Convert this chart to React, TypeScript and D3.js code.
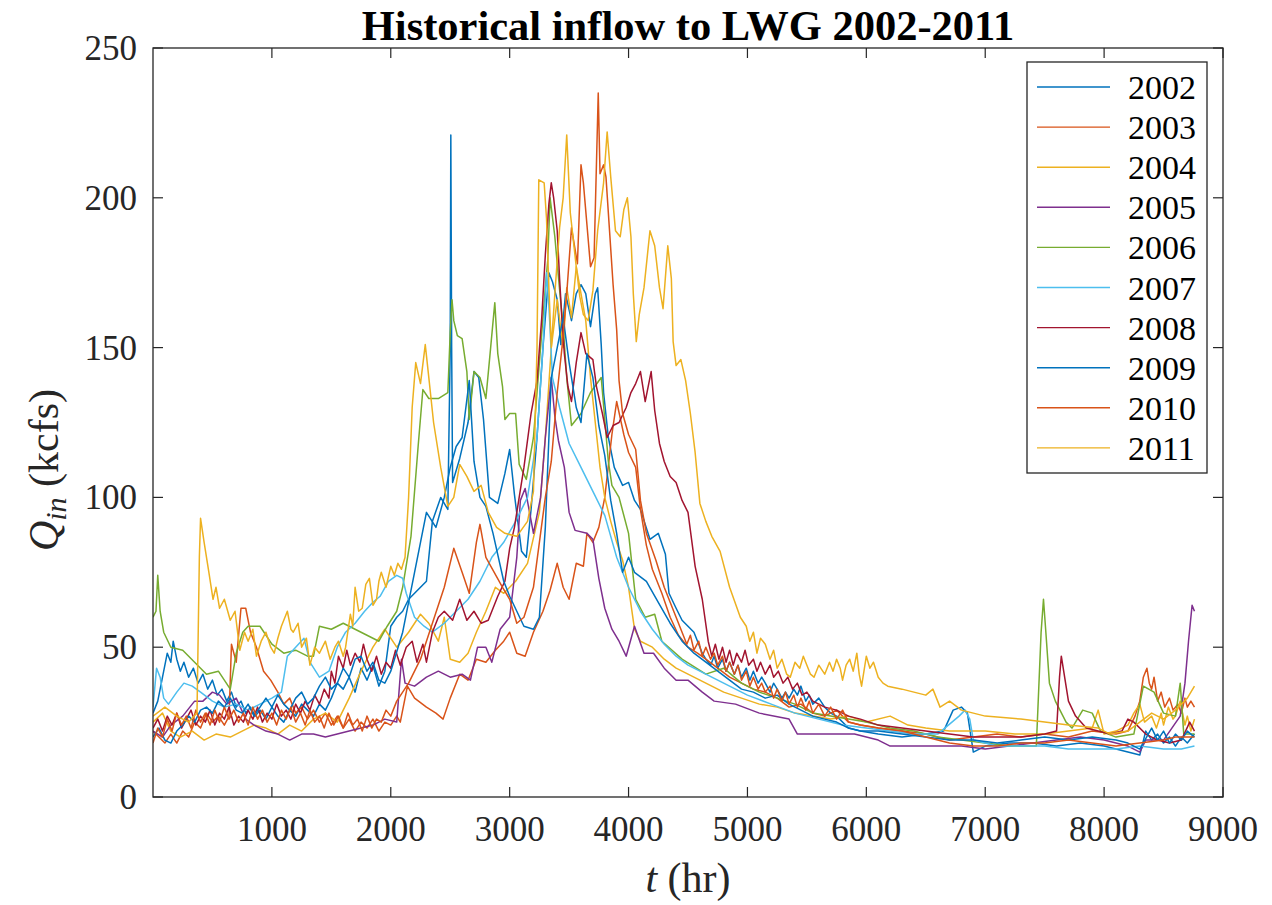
import * as d3 from "d3";

// hour-of-year vs inflow (kcfs)
const inflow2002: [number, number][] = [
  [0, 28], [40, 32], [80, 40], [120, 48], [150, 45], [170, 52], [200, 46], [230, 42], [260, 45], [300, 40],
  [340, 43], [380, 38], [420, 41], [460, 36], [500, 39], [540, 34], [580, 36], [620, 32], [660, 35], [700, 30],
  [740, 32], [780, 28], [820, 30], [860, 27], [900, 29], [950, 26], [1000, 30], [1050, 27], [1100, 25],
  [1150, 29], [1200, 27], [1250, 31], [1300, 29], [1350, 27], [1400, 31], [1450, 29], [1500, 33], [1550, 38],
  [1600, 36], [1650, 40], [1700, 35], [1750, 43], [1800, 39], [1850, 44], [1900, 37], [1950, 42], [2000, 57],
  [2050, 60], [2100, 62], [2150, 66], [2200, 68], [2250, 70], [2300, 72], [2350, 92], [2420, 100],
  [2480, 96], [2500, 150], [2505, 221], [2512, 150], [2520, 105], [2580, 113], [2650, 125], [2700, 142],
  [2740, 140], [2780, 126], [2830, 100], [2900, 98], [2960, 108], [3000, 116], [3040, 101], [3100, 82],
  [3140, 80], [3180, 96], [3230, 120], [3280, 150], [3330, 175], [3360, 172], [3400, 166], [3430, 151],
  [3470, 168], [3520, 159], [3560, 168], [3600, 171], [3640, 168], [3680, 157], [3720, 168], [3740, 170],
  [3770, 151], [3790, 135], [3830, 120], [3880, 110], [3950, 104], [4000, 105], [4050, 99], [4100, 96],
  [4180, 86], [4250, 88], [4310, 81], [4340, 68], [4400, 63], [4450, 59], [4500, 57], [4550, 55], [4590, 51],
  [4620, 48], [4650, 46], [4690, 44], [4720, 47], [4750, 43], [4790, 46], [4820, 42], [4850, 45], [4890, 41],
  [4920, 44], [4950, 40], [4990, 43], [5020, 39], [5050, 42], [5090, 38], [5120, 40], [5150, 38], [5190, 35],
  [5220, 38], [5250, 36], [5290, 33], [5320, 35], [5350, 33], [5390, 36], [5420, 34], [5450, 37], [5490, 32],
  [5520, 34], [5550, 31], [5600, 33], [5650, 30], [5700, 28], [5750, 27], [5850, 23], [5950, 22], [6100, 21],
  [6300, 20], [6500, 21], [6650, 22], [6730, 29], [6800, 30], [6850, 28], [6900, 15], [7000, 17], [7200, 18],
  [7400, 18], [7600, 17], [7800, 18], [8000, 17], [8200, 15], [8300, 14], [8350, 22], [8400, 19], [8450, 21],
  [8500, 18], [8550, 20], [8600, 17], [8650, 20], [8700, 18], [8760, 21],
];

const inflow2003: [number, number][] = [
  [0, 22], [50, 20], [100, 18], [150, 21], [200, 18], [250, 22], [300, 20], [350, 25], [400, 23], [450, 28],
  [500, 25], [550, 27], [600, 24], [640, 27], [660, 51], [700, 45], [740, 63], [780, 63], [820, 55], [870, 50],
  [930, 42], [990, 39], [1050, 35], [1100, 31], [1150, 33], [1200, 28], [1250, 30], [1300, 26], [1350, 29],
  [1400, 25], [1450, 28], [1500, 24], [1550, 27], [1600, 23], [1650, 26], [1700, 22], [1750, 25], [1800, 23],
  [1850, 26], [1900, 22], [1950, 25], [2000, 24], [2050, 27], [2080, 25], [2140, 37], [2200, 33], [2300, 30],
  [2380, 28], [2440, 26], [2500, 33], [2580, 41], [2650, 39], [2720, 46], [2800, 45], [2880, 49], [2950, 52],
  [3000, 55], [3060, 48], [3130, 47], [3200, 55], [3280, 62], [3340, 69], [3400, 78], [3450, 70], [3500, 66],
  [3560, 78], [3620, 77], [3650, 88], [3700, 85], [3750, 90], [3800, 100], [3860, 121], [3900, 132],
  [3960, 121], [4000, 115], [4060, 110], [4100, 96], [4150, 84], [4200, 76], [4280, 68], [4350, 60],
  [4420, 54], [4500, 50], [4580, 48], [4650, 46], [4750, 43], [4850, 40], [4950, 38], [5050, 36], [5150, 35],
  [5250, 33], [5350, 30], [5450, 31], [5550, 28], [5650, 27], [5750, 29], [5850, 25], [5950, 24], [6100, 23],
  [6300, 22], [6500, 21], [6700, 19], [6900, 20], [7100, 21], [7300, 20], [7500, 21], [7700, 20], [7900, 22],
  [8100, 21], [8200, 22], [8260, 27], [8300, 32], [8330, 40], [8360, 43], [8380, 38], [8400, 36], [8420, 40],
  [8450, 32], [8480, 35], [8510, 30], [8550, 33], [8580, 29], [8620, 31], [8650, 28], [8680, 33], [8700, 30],
  [8730, 32], [8760, 30],
];

const inflow2004: [number, number][] = [
  [0, 25], [80, 28], [150, 22], [230, 20], [330, 22], [430, 19], [530, 21], [650, 20], [750, 22], [850, 24],
  [950, 23], [1050, 21], [1150, 24], [1250, 22], [1350, 26], [1450, 28], [1550, 25], [1650, 33], [1750, 42],
  [1850, 50], [1950, 56], [2050, 50], [2150, 55], [2250, 61], [2320, 58], [2400, 52], [2450, 60], [2500, 46],
  [2580, 45], [2650, 48], [2720, 55], [2800, 62], [2880, 70], [2950, 68], [3050, 72], [3150, 78], [3250, 95],
  [3300, 120], [3350, 150], [3400, 166], [3450, 150], [3480, 170], [3520, 160], [3560, 177], [3600, 168],
  [3640, 159], [3680, 140], [3720, 125], [3760, 110], [3800, 100], [3850, 92], [3900, 85], [3950, 79],
  [4000, 70], [4050, 56], [4100, 52], [4200, 50], [4300, 46], [4400, 43], [4500, 41], [4600, 39], [4700, 37],
  [4800, 35], [4950, 33], [5100, 31], [5250, 30], [5400, 28], [5550, 27], [5700, 26], [5850, 27], [6000, 25],
  [6200, 27], [6350, 24], [6500, 23], [6700, 22], [7000, 22], [7250, 21], [7500, 21], [7700, 22], [7900, 23],
  [7950, 29], [8000, 21], [8100, 22], [8200, 24], [8250, 28], [8300, 31], [8340, 25], [8400, 27], [8440, 23],
  [8480, 28], [8500, 24], [8540, 30], [8580, 26], [8600, 27], [8640, 32], [8680, 24], [8700, 27], [8730, 22],
  [8760, 26],
];

const inflow2005: [number, number][] = [
  [0, 22], [80, 20], [150, 24], [250, 27], [350, 32], [420, 32], [500, 35], [560, 34], [620, 31], [700, 33],
  [780, 26], [850, 24], [950, 22], [1050, 21], [1150, 19], [1250, 21], [1350, 21], [1450, 20], [1550, 21],
  [1650, 22], [1750, 23], [1850, 24], [1950, 26], [2050, 25], [2090, 46], [2120, 38], [2200, 37], [2300, 40],
  [2400, 42], [2500, 40], [2600, 41], [2670, 39], [2730, 50], [2800, 50], [2850, 45], [2920, 56], [3000, 60],
  [3060, 80], [3090, 99], [3130, 103], [3200, 88], [3260, 100], [3300, 120], [3350, 140], [3380, 127],
  [3410, 119], [3460, 110], [3500, 95], [3550, 89], [3650, 88], [3700, 86], [3750, 73], [3800, 63], [3860, 56],
  [3920, 52], [3980, 47], [4050, 57], [4130, 48], [4210, 48], [4300, 43], [4400, 39], [4500, 39], [4620, 35],
  [4720, 32], [4900, 31], [5100, 28], [5350, 26], [5420, 21], [5600, 21], [5900, 21], [6100, 19], [6200, 17],
  [6400, 17], [6600, 17], [6800, 17], [7000, 16], [7200, 17], [7400, 18], [7600, 19], [7800, 20], [8000, 19],
  [8100, 18], [8200, 17], [8300, 15], [8350, 19], [8500, 19], [8640, 27], [8680, 38], [8710, 52], [8740, 64],
  [8760, 62],
];

const inflow2006: [number, number][] = [
  [0, 60], [25, 62], [40, 74], [60, 62], [90, 55], [150, 50], [250, 49], [350, 45], [450, 41], [550, 42],
  [650, 36], [700, 48], [755, 55], [800, 57], [900, 57], [1000, 51], [1100, 48], [1200, 49], [1300, 47],
  [1350, 47], [1400, 57], [1500, 56], [1600, 58], [1700, 56], [1800, 54], [1900, 52], [1970, 57], [2050, 62],
  [2100, 70], [2170, 87], [2230, 117], [2270, 136], [2320, 133], [2400, 133], [2480, 135], [2500, 155],
  [2515, 166], [2530, 159], [2560, 154], [2600, 153], [2640, 142], [2660, 126], [2700, 142], [2750, 140],
  [2800, 133], [2840, 150], [2875, 165], [2900, 148], [2940, 137], [2960, 126], [3000, 128], [3050, 128],
  [3080, 111], [3140, 106], [3200, 120], [3260, 150], [3300, 170], [3320, 179], [3340, 200], [3380, 187],
  [3400, 178], [3430, 165], [3450, 157], [3480, 140], [3520, 124], [3600, 128], [3680, 135], [3770, 140],
  [3830, 112], [3860, 104], [3920, 100], [4000, 88], [4060, 66], [4140, 60], [4220, 61], [4280, 52],
  [4450, 46], [4650, 41], [4800, 43], [4950, 38], [5100, 35], [5250, 33], [5400, 31], [5550, 28], [5700, 27],
  [5850, 26], [6000, 25], [6200, 23], [6400, 22], [6600, 20], [6800, 19], [7000, 18], [7200, 17], [7430, 17],
  [7470, 55], [7490, 66], [7510, 55], [7540, 38], [7590, 32], [7680, 25], [7730, 23], [7820, 29], [7900, 28],
  [7970, 22], [8100, 20], [8250, 21], [8330, 37], [8420, 35], [8500, 28], [8600, 27], [8640, 38], [8670, 21],
  [8760, 21],
];

const inflow2007: [number, number][] = [
  [0, 30], [30, 43], [60, 40], [90, 33], [130, 31], [200, 35], [260, 38], [330, 37], [400, 35], [500, 32],
  [600, 30], [700, 31], [800, 29], [900, 31], [1000, 33], [1080, 35], [1130, 47], [1200, 50], [1270, 53],
  [1320, 45], [1400, 40], [1480, 42], [1550, 50], [1620, 55], [1700, 58], [1780, 62], [1850, 65], [1910, 67],
  [1980, 72], [2050, 74], [2100, 73], [2130, 68], [2200, 60], [2280, 57], [2350, 55], [2450, 58], [2550, 62],
  [2650, 66], [2750, 72], [2850, 80], [2950, 85], [3050, 92], [3150, 100], [3230, 120], [3280, 150],
  [3310, 175], [3330, 164], [3360, 140], [3420, 130], [3500, 118], [3600, 110], [3700, 102], [3800, 94],
  [3900, 80], [4000, 70], [4100, 62], [4200, 56], [4300, 51], [4400, 47], [4500, 44], [4650, 41], [4800, 38],
  [5000, 34], [5200, 31], [5400, 28], [5600, 26], [5800, 24], [6000, 23], [6200, 22], [6400, 21], [6600, 21],
  [6780, 27], [6830, 29], [6870, 26], [6900, 19], [7100, 17], [7300, 17], [7500, 17], [7700, 16], [7900, 16],
  [8100, 16], [8300, 17], [8500, 16], [8650, 16], [8760, 17],
];

const inflow2008: [number, number][] = [
  [0, 23], [40, 26], [80, 22], [120, 27], [160, 24], [200, 28], [240, 23], [280, 26], [320, 29], [360, 24],
  [400, 27], [440, 25], [480, 29], [520, 24], [560, 28], [600, 26], [640, 30], [680, 24], [720, 27], [760, 25],
  [800, 29], [840, 26], [880, 30], [920, 25], [960, 28], [1000, 26], [1040, 31], [1080, 27], [1120, 29],
  [1160, 26], [1200, 31], [1240, 28], [1280, 32], [1320, 29], [1360, 34], [1400, 31], [1440, 36], [1480, 33],
  [1500, 42], [1530, 38], [1560, 47], [1600, 43], [1630, 49], [1660, 44], [1700, 48], [1740, 45], [1770, 51],
  [1800, 46], [1840, 42], [1880, 47], [1920, 41], [1960, 45], [2000, 43], [2040, 49], [2080, 44], [2130, 50],
  [2180, 52], [2220, 45], [2270, 51], [2300, 45], [2350, 55], [2400, 60], [2450, 62], [2520, 59], [2580, 66],
  [2640, 59], [2700, 62], [2760, 58], [2820, 59], [2900, 67], [2960, 72], [3000, 83], [3040, 90], [3080, 100],
  [3120, 110], [3180, 128], [3230, 139], [3270, 160], [3300, 181], [3330, 198], [3350, 205], [3370, 200],
  [3400, 189], [3420, 173], [3440, 159], [3460, 148], [3490, 137], [3520, 132], [3560, 145], [3600, 155],
  [3640, 148], [3700, 146], [3730, 137], [3780, 128], [3820, 120], [3870, 124], [3920, 125], [3980, 130],
  [4020, 135], [4060, 138], [4100, 142], [4140, 132], [4190, 142], [4220, 129], [4260, 118], [4300, 112],
  [4350, 107], [4400, 105], [4450, 99], [4500, 95], [4530, 86], [4560, 77], [4620, 66], [4670, 52],
  [4700, 47], [4730, 51], [4760, 46], [4790, 50], [4820, 45], [4850, 49], [4880, 44], [4910, 48], [4950, 45],
  [4980, 49], [5010, 44], [5050, 46], [5080, 42], [5110, 45], [5150, 41], [5190, 44], [5220, 40], [5260, 42],
  [5300, 38], [5340, 40], [5380, 36], [5420, 38], [5460, 34], [5500, 35], [5550, 32], [5650, 30], [5750, 29],
  [5850, 27], [5950, 26], [6100, 24], [6300, 23], [6500, 22], [6700, 21], [6900, 20], [7100, 20], [7300, 20],
  [7500, 21], [7600, 22], [7625, 40], [7640, 47], [7660, 42], [7700, 32], [7760, 27], [7850, 23], [7950, 22],
  [8050, 21], [8150, 22], [8200, 26], [8250, 25], [8350, 21], [8450, 19], [8550, 18], [8650, 19], [8720, 25],
  [8760, 22],
];

const inflow2009: [number, number][] = [
  [0, 20], [50, 23], [100, 19], [150, 18], [200, 22], [250, 24], [300, 27], [350, 25], [400, 29], [450, 30],
  [500, 28], [550, 32], [600, 30], [650, 33], [700, 29], [750, 28], [800, 31], [850, 27], [900, 30], [950, 33],
  [1000, 30], [1050, 34], [1100, 31], [1150, 29], [1200, 33], [1250, 35], [1300, 31], [1350, 33], [1400, 37],
  [1450, 40], [1500, 36], [1550, 38], [1600, 43], [1650, 40], [1700, 46], [1750, 47], [1800, 42], [1850, 45],
  [1900, 39], [1950, 38], [2000, 42], [2100, 55], [2200, 75], [2250, 85], [2300, 95], [2380, 90], [2450, 100],
  [2500, 110], [2550, 117], [2600, 120], [2660, 139], [2700, 112], [2750, 100], [2800, 97], [2860, 88],
  [2950, 72], [3000, 67], [3060, 62], [3120, 57], [3200, 56], [3250, 60], [3300, 90], [3350, 140], [3400, 150],
  [3450, 160], [3500, 145], [3560, 130], [3600, 125], [3650, 148], [3700, 140], [3750, 124], [3800, 114],
  [3850, 99], [3900, 88], [3950, 75], [4000, 80], [4050, 75], [4150, 72], [4250, 65], [4350, 58], [4450, 52],
  [4550, 48], [4650, 45], [4750, 42], [4850, 39], [4950, 36], [5050, 35], [5150, 33], [5250, 34], [5350, 31],
  [5450, 29], [5550, 27], [5650, 26], [5750, 25], [5850, 23], [5950, 22], [6100, 22], [6300, 21], [6500, 20],
  [6700, 19], [6900, 19], [7100, 18], [7300, 19], [7500, 20], [7700, 19], [7900, 20], [8100, 19], [8200, 18],
  [8300, 16], [8400, 23], [8450, 19], [8500, 22], [8550, 18], [8600, 21], [8650, 19], [8700, 22], [8760, 20],
];

const inflow2010: [number, number][] = [
  [0, 18], [40, 23], [80, 20], [120, 26], [160, 22], [200, 28], [240, 24], [280, 27], [320, 23], [360, 29],
  [400, 25], [440, 28], [480, 24], [520, 29], [560, 25], [600, 30], [640, 26], [680, 29], [720, 25], [760, 28],
  [800, 24], [840, 30], [880, 26], [920, 29], [960, 25], [1000, 28], [1040, 24], [1080, 29], [1120, 26],
  [1160, 30], [1200, 25], [1240, 28], [1280, 24], [1320, 29], [1360, 25], [1400, 27], [1440, 23], [1480, 28],
  [1520, 24], [1560, 27], [1600, 23], [1640, 28], [1680, 24], [1720, 26], [1760, 22], [1800, 27], [1840, 23],
  [1880, 26], [1920, 25], [1960, 29], [2000, 27], [2050, 32], [2150, 38], [2250, 46], [2350, 58], [2450, 70],
  [2530, 83], [2600, 75], [2660, 68], [2720, 85], [2750, 91], [2800, 80], [2870, 75], [2940, 70], [3000, 66],
  [3060, 58], [3120, 60], [3200, 70], [3260, 88], [3300, 100], [3350, 112], [3400, 135], [3440, 150],
  [3480, 168], [3520, 190], [3570, 178], [3600, 211], [3620, 205], [3650, 191], [3680, 177], [3710, 180],
  [3745, 235], [3760, 208], [3790, 211], [3810, 207], [3840, 189], [3870, 171], [3900, 156], [3920, 139],
  [3950, 128], [4000, 121], [4060, 116], [4100, 99], [4150, 88], [4230, 79], [4300, 70], [4380, 62],
  [4450, 55], [4490, 51], [4520, 54], [4550, 49], [4590, 52], [4620, 47], [4650, 50], [4690, 46], [4720, 48],
  [4750, 44], [4790, 47], [4820, 42], [4850, 45], [4890, 41], [4920, 44], [4950, 39], [4990, 42], [5020, 37],
  [5050, 40], [5090, 36], [5120, 38], [5150, 35], [5190, 37], [5220, 33], [5250, 36], [5290, 32], [5320, 35],
  [5350, 31], [5390, 34], [5420, 30], [5450, 33], [5490, 29], [5520, 32], [5550, 28], [5600, 31], [5650, 27],
  [5700, 30], [5750, 26], [5800, 29], [5850, 25], [5950, 24], [6100, 23], [6300, 22], [6500, 20], [6700, 18],
  [6900, 17], [7100, 17], [7300, 18], [7500, 18], [7700, 19], [7900, 18], [8100, 17], [8300, 18], [8500, 19],
  [8600, 20], [8760, 20],
];

const inflow2011: [number, number][] = [
  [0, 27], [100, 30], [200, 27], [300, 25], [370, 28], [390, 80], [400, 93], [430, 85], [470, 75], [505, 66],
  [530, 70], [560, 63], [600, 66], [650, 59], [690, 62], [730, 49], [770, 55], [800, 52], [840, 56], [870, 47],
  [910, 52], [950, 55], [990, 50], [1020, 48], [1050, 53], [1080, 57], [1130, 62], [1160, 56], [1180, 55],
  [1220, 58], [1250, 50], [1290, 53], [1320, 44], [1360, 50], [1400, 48], [1450, 52], [1490, 46], [1530, 50],
  [1560, 52], [1600, 47], [1620, 50], [1660, 61], [1680, 57], [1700, 70], [1730, 62], [1760, 63], [1790, 71],
  [1820, 73], [1850, 64], [1880, 66], [1900, 72], [1920, 75], [1960, 70], [2000, 77], [2030, 74], [2060, 78],
  [2090, 76], [2120, 80], [2150, 100], [2180, 130], [2210, 145], [2250, 138], [2290, 151], [2320, 140],
  [2360, 125], [2420, 110], [2480, 97], [2530, 100], [2580, 111], [2640, 107], [2700, 102], [2760, 104],
  [2820, 95], [2890, 90], [2960, 88], [3060, 87], [3150, 92], [3200, 102], [3230, 150], [3245, 206],
  [3290, 205], [3310, 193], [3330, 170], [3350, 150], [3380, 168], [3420, 190], [3450, 200], [3480, 221],
  [3510, 195], [3560, 177], [3590, 167], [3620, 161], [3660, 159], [3700, 169], [3740, 189], [3790, 205],
  [3820, 222], [3850, 207], [3890, 189], [3930, 187], [3960, 196], [3990, 200], [4020, 187], [4040, 168],
  [4065, 152], [4090, 161], [4130, 170], [4180, 189], [4220, 184], [4260, 170], [4290, 163], [4330, 184],
  [4360, 173], [4375, 152], [4400, 144], [4440, 146], [4480, 139], [4520, 128], [4560, 115], [4600, 98],
  [4650, 92], [4700, 87], [4770, 82], [4850, 70], [4940, 60], [4990, 57], [5020, 52], [5050, 55], [5080, 48],
  [5110, 53], [5150, 51], [5190, 46], [5220, 49], [5250, 43], [5290, 46], [5330, 41], [5360, 40], [5400, 45],
  [5440, 43], [5470, 47], [5500, 44], [5530, 41], [5560, 40], [5600, 44], [5650, 41], [5690, 45], [5720, 42],
  [5750, 46], [5780, 43], [5800, 39], [5830, 44], [5860, 46], [5890, 42], [5920, 48], [5940, 41], [5960, 37],
  [5980, 42], [6000, 47], [6030, 43], [6060, 45], [6100, 40], [6140, 38], [6180, 37], [6300, 36], [6400, 35],
  [6500, 34], [6560, 36], [6620, 30], [6700, 32], [6800, 29], [6900, 28], [7000, 27], [7300, 26], [7500, 25],
  [7700, 24], [7950, 23], [8050, 21], [8200, 22], [8300, 25], [8400, 28], [8500, 26], [8600, 29], [8700, 33],
  [8760, 37],
];

const years = ["2002", "2003", "2004", "2005", "2006", "2007", "2008", "2009", "2010", "2011"];
const seriesData = [
  inflow2002, inflow2003, inflow2004, inflow2005, inflow2006,
  inflow2007, inflow2008, inflow2009, inflow2010, inflow2011,
];
// MATLAB default colour order, wraps after 7
const colorOrder = ["#0072BD", "#D95319", "#EDB120", "#7E2F8E", "#77AC30", "#4DBEEE", "#A2142F"];

const xTicks = [1000, 2000, 3000, 4000, 5000, 6000, 7000, 8000, 9000];
const yTicks = [0, 50, 100, 150, 200, 250];

const W = 1272;
const H = 905;
const margin = { left: 153, top: 48, right: 1223, bottom: 797 };
const font = "'Liberation Serif', 'Times New Roman', serif";
const axisColor = "#262626";

export default function App() {
  const x = d3.scaleLinear().domain([0, 9000]).range([margin.left, margin.right]);
  const y = d3.scaleLinear().domain([0, 250]).range([margin.bottom, margin.top]);
  const line = d3
    .line<[number, number]>()
    .x((d) => x(d[0]))
    .y((d) => y(d[1]));

  const tickLen = 10;
  const legend = { x: 1027, y: 62, w: 180, h: 411, rowH: 40.1 };

  return (
    <svg
      width={W}
      height={H}
      viewBox={`0 0 ${W} ${H}`}
      style={{ position: "absolute", left: 0, top: 0, background: "#fff" }}
      fontFamily={font}
    >
      <rect x={0} y={0} width={W} height={H} fill="#fff" />

      <defs>
        <clipPath id="plot-clip">
          <rect x={margin.left} y={margin.top} width={margin.right - margin.left} height={margin.bottom - margin.top} />
        </clipPath>
      </defs>

      <g clipPath="url(#plot-clip)">
        {seriesData.map((s, i) => (
          <path
            key={years[i]}
            d={line(s) ?? ""}
            fill="none"
            stroke={colorOrder[i % colorOrder.length]}
            strokeWidth={1.5}
            strokeLinejoin="round"
          />
        ))}
      </g>

      {/* axes box */}
      <rect
        x={margin.left}
        y={margin.top}
        width={margin.right - margin.left}
        height={margin.bottom - margin.top}
        fill="none"
        stroke={axisColor}
        strokeWidth={1.3}
      />

      {xTicks.map((t) => (
        <g key={`xt${t}`}>
          <line x1={x(t)} x2={x(t)} y1={margin.bottom} y2={margin.bottom - tickLen} stroke={axisColor} strokeWidth={1.2} />
          <line x1={x(t)} x2={x(t)} y1={margin.top} y2={margin.top + tickLen} stroke={axisColor} strokeWidth={1.2} />
          <text x={x(t)} y={margin.bottom + 44} textAnchor="middle" fontSize={35} fill={axisColor}>
            {t}
          </text>
        </g>
      ))}

      {yTicks.map((v) => (
        <g key={`yt${v}`}>
          <line x1={margin.left} x2={margin.left + tickLen} y1={y(v)} y2={y(v)} stroke={axisColor} strokeWidth={1.2} />
          <line x1={margin.right} x2={margin.right - tickLen} y1={y(v)} y2={y(v)} stroke={axisColor} strokeWidth={1.2} />
          <text x={margin.left - 16} y={y(v) + 12} textAnchor="end" fontSize={35} fill={axisColor}>
            {v}
          </text>
        </g>
      ))}

      {/* title */}
      <text x={(margin.left + margin.right) / 2} y={40} textAnchor="middle" fontSize={42.5} fontWeight="bold" fill="#000">
        Historical inflow to LWG 2002-2011
      </text>

      {/* x label */}
      <text x={(margin.left + margin.right) / 2} y={892} textAnchor="middle" fontSize={42} fill={axisColor}>
        <tspan fontStyle="italic">t</tspan> (hr)
      </text>

      {/* y label */}
      <text transform={`translate(58, 470) rotate(-90)`} textAnchor="middle" fontSize={42} fill={axisColor}>
        <tspan fontStyle="italic">Q</tspan>
        <tspan fontStyle="italic" fontSize={30} dy={8}>in</tspan>
        <tspan dy={-8}> (kcfs)</tspan>
      </text>

      {/* legend */}
      <g>
        <rect x={legend.x} y={legend.y} width={legend.w} height={legend.h} fill="#fff" stroke={axisColor} strokeWidth={1.3} />
        {years.map((yr, i) => {
          const cy = legend.y + 25 + i * legend.rowH;
          return (
            <g key={`lg${yr}`}>
              <line x1={legend.x + 10} x2={legend.x + 83} y1={cy} y2={cy} stroke={colorOrder[i % colorOrder.length]} strokeWidth={1.4} />
              <text x={legend.x + 101} y={cy + 12} fontSize={34} fill="#000">
                {yr}
              </text>
            </g>
          );
        })}
      </g>
    </svg>
  );
}
